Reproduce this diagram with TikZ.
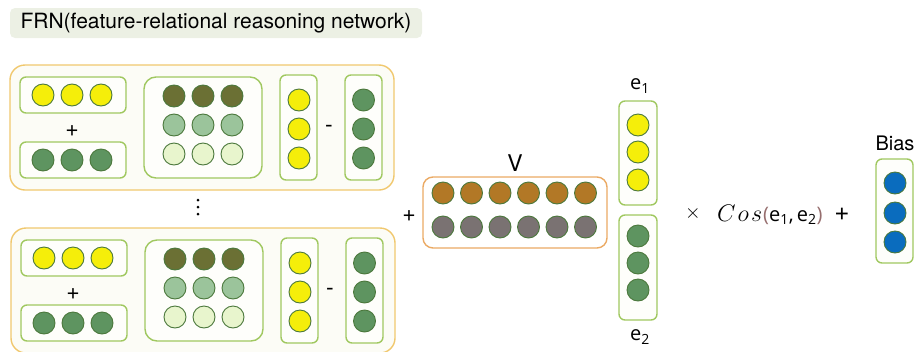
\RequirePackage{fix-cm}
\documentclass[tikz,border=0pt]{standalone}
\usepackage{fontspec}
\setmainfont{TeX Gyre Heros}
\newfontfamily\efont{Open Sans}
\definecolor{yel}{RGB}{245,238,10}
\definecolor{grn}{RGB}{94,148,96}
\definecolor{dotline}{RGB}{75,120,60}
\definecolor{olive}{RGB}{107,112,52}
\definecolor{midg}{RGB}{155,196,155}
\definecolor{lightg}{RGB}{232,245,205}
\definecolor{brn}{RGB}{178,120,38}
\definecolor{greyc}{RGB}{122,114,114}
\definecolor{bluec}{RGB}{10,108,190}
\definecolor{boxg}{RGB}{160,200,96}
\definecolor{gold}{RGB}{240,200,110}
\definecolor{orng}{RGB}{235,170,100}
\definecolor{outerfill}{RGB}{252,252,246}
\definecolor{titlebg}{RGB}{236,240,228}
\definecolor{parc}{RGB}{150,110,110}
\tikzset{
  dot/.style={circle, draw=dotline, line width=0.9pt, minimum size=22, inner sep=0pt},
  gbox/.style={draw=boxg, line width=1.4pt, rounded corners=6, fill=white!60!outerfill, inner sep=0pt},
  obox/.style={draw=gold, line width=1.4pt, rounded corners=15, fill=outerfill, inner sep=0pt},
  vbox/.style={draw=orng, line width=1.4pt, rounded corners=10, fill=white, inner sep=0pt},
  lbl/.style={font=\fontsize{23}{27}\selectfont, inner sep=0pt},
  elbl/.style={font=\efont\fontsize{20}{24}\selectfont, inner sep=0pt},
}
\begin{document}
\begin{tikzpicture}[x=1pt,y=-1pt]
\useasboundingbox (0,0) rectangle (917,351);
% title
\node[fill=titlebg, rounded corners=5, minimum width=412, minimum height=30, inner sep=0pt,
      font=\fontsize{21}{25}\selectfont] (title) at (216,23) {FRN(feature-relational reasoning network)};
% two blocks
\foreach \b/\dx/\dy in {a/0/0, b/1/163} {
\begin{scope}[shift={(\dx,\dy)}]
  \node[obox, minimum width=384, minimum height=125] (\b-out) at (202,127.5) {};
  \node[gbox, minimum width=106, minimum height=36] (\b-tl) at (73,95) {};
  \node[gbox, minimum width=106, minimum height=36] (\b-bl) at (73,160) {};
  \node[gbox, rounded corners=12, minimum width=118, minimum height=101] (\b-mid) at (203,127.5) {};
  \node[gbox, minimum width=37, minimum height=105] (\b-c1) at (298.5,127.5) {};
  \node[gbox, minimum width=37, minimum height=105] (\b-c2) at (363.5,127.5) {};
  \node[lbl] (\b-plus) at (72,131) {+};
  \node[lbl] (\b-minus) at (329,129) {-};
  \foreach \i/\x in {1/43,2/72,3/101} {
    \node[dot, fill=yel] (\b-tl\i) at (\x,95) {};
    \node[dot, fill=grn] (\b-bl\i) at (\x,160) {};
  }
  \foreach \i/\x in {1/174,2/203,3/232} {
    \node[dot, fill=olive] (\b-m1\i) at (\x,96) {};
    \node[dot, fill=midg] (\b-m2\i) at (\x,125) {};
    \node[dot, fill=lightg] (\b-m3\i) at (\x,154) {};
  }
  \foreach \i/\y in {1/100,2/129,3/158} {
    \node[dot, fill=yel] (\b-c1\i) at (299,\y) {};
    \node[dot, fill=grn] (\b-c2\i) at (363.5,\y) {};
  }
\end{scope}
}
% vertical dots
\foreach \y in {200,207,214} \fill (198,\y) circle (1.5);
% V matrix
\node[lbl] (plusv) at (409,216) {+};
\node[vbox, minimum width=184, minimum height=71] (vb) at (515,212.5) {};
\node[lbl] (vl) at (515,163) {V};
\foreach \i/\x in {1/443,2/471.5,3/500,4/528.5,5/557,6/585.5} {
  \node[dot, fill=brn] (v1\i) at (\x,193) {};
  \node[dot, fill=greyc] (v2\i) at (\x,227) {};
}
% e1, e2
\node[gbox, minimum width=38, minimum height=104] (e1b) at (638,153) {};
\node[gbox, minimum width=38, minimum height=105] (e2b) at (638,267.5) {};
\foreach \i/\y in {1/125,2/152,3/180} \node[dot, fill=yel] (e1c\i) at (638,\y) {};
\foreach \i/\y in {1/236,2/263,3/290} \node[dot, fill=grn] (e2c\i) at (638,\y) {};
\node[elbl] (e1l) at (640,86) {e\textsubscript{1}};
\node[elbl] (e2l) at (640,337) {e\textsubscript{2}};
% formula
\node[lbl, font=\fontsize{20}{24}\selectfont] (times) at (693,213) {$\times$};
\node[inner sep=0pt, anchor=west] (cos) at (717,215) {\fontsize{24}{28}\selectfont $C\kern2pt o\kern2pt s$\kern1pt{\efont\fontsize{20}{24}\selectfont\textcolor{parc}{(}e\textsubscript{1},\,e\textsubscript{2}\textcolor{parc}{)}}};
\node[lbl, font=\fontsize{26}{30}\selectfont] (plusb) at (842,214) {+};
% bias
\node[lbl, font=\fontsize{20}{24}\selectfont] (biasl) at (895,143) {Bias};
\node[gbox, minimum width=37, minimum height=104] (biasb) at (894.5,211) {};
\foreach \i/\y in {1/183,2/213,3/242} \node[dot, fill=bluec] (bc\i) at (895,\y) {};
\end{tikzpicture}
\end{document}
